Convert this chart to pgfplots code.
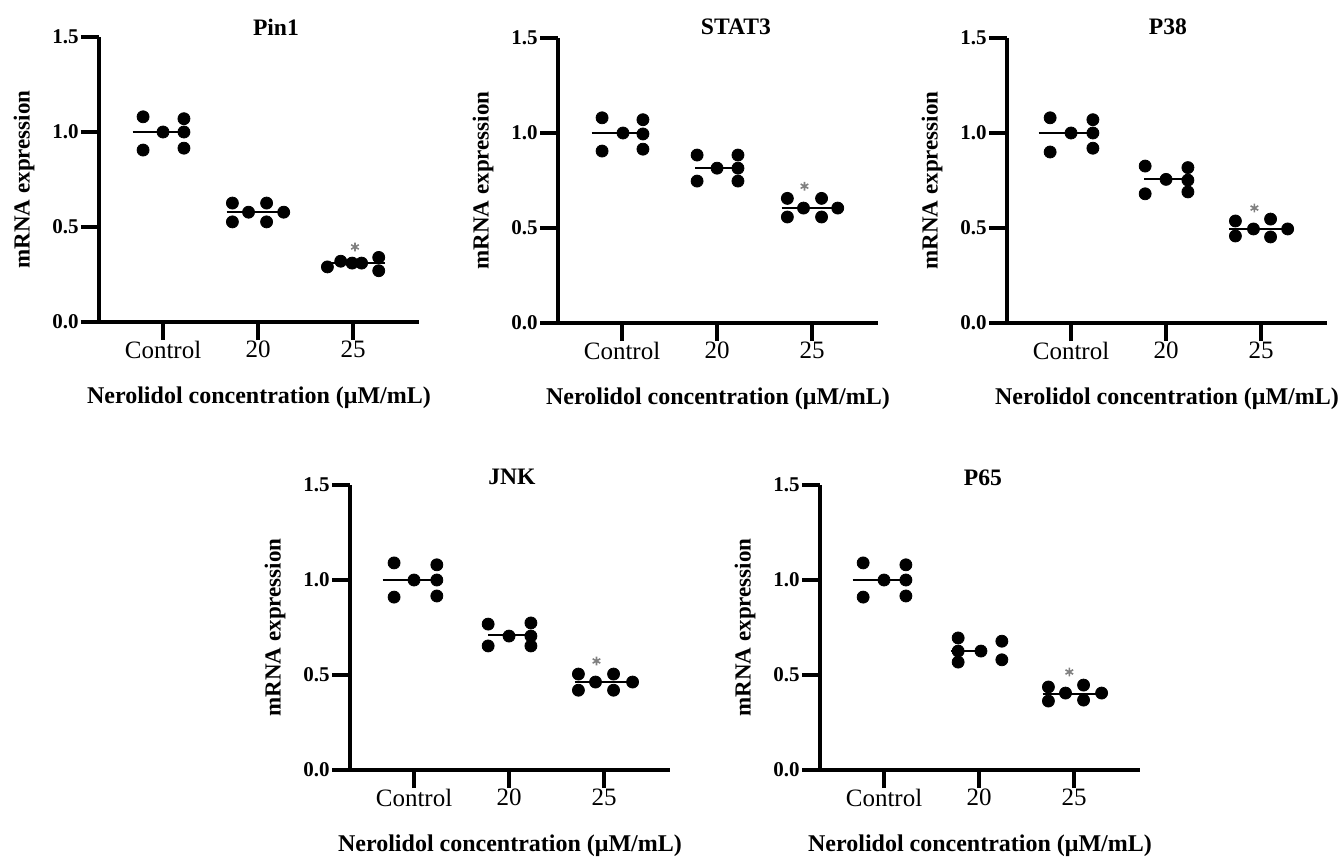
\documentclass[border=0pt]{standalone}
\usepackage{fontspec}
\setmainfont{Liberation Serif}
\usepackage{pgfplots}
\pgfplotsset{compat=1.18}
\pgfplotsset{
 panel/.style={
  scale only axis, width=160pt, height=142.5pt, anchor=north west,
  xmin=-0.674, xmax=2.694, ymin=0, ymax=1.5,
  axis x line=bottom, axis y line=left,
  axis line style={-, line width=1.6pt},
  xtick style={black, line width=1.6pt},
  ytick style={black, line width=1.6pt},
  major tick length=9pt, tick align=outside,
  xtick={0,1,2}, xticklabels={Control,20,25},
  ytick={0,0.5,1,1.5},
  yticklabel style={font=\fontsize{10.5}{12}\selectfont\bfseries, inner sep=1pt,
    /pgf/number format/fixed, /pgf/number format/fixed zerofill,
    /pgf/number format/precision=1, /pgf/number format/assume math mode=true},
  xticklabel style={font=\fontsize{12.5}{14}\selectfont, yshift=3pt},
  xlabel={Nerolidol concentration (μM/mL)},
  ylabel={mRNA expression},
  xlabel style={font=\fontsize{12}{14}\selectfont\bfseries, at={(axis description cs:0.5,-0.265)}, anchor=center},
  ylabel style={font=\fontsize{11.5}{13}\selectfont\bfseries, at={(axis description cs:-0.234,0.5)}, anchor=center},
  every axis title shift=0pt,
  clip=false,
 },
 ttl/.style={title style={font=\fontsize{11.8}{13}\selectfont\bfseries, at={(axis description cs:#1)}, anchor=center}},
 dots/.style={only marks, mark=*, mark size=3pt, black, mark options={fill=black}},
 med/.style={black, line width=1pt, no marks},
 star/.style={only marks, mark=asterisk, mark size=2.2pt, gray, mark options={line width=0.8pt}},
}
\begin{document}
\begin{tikzpicture}
\useasboundingbox (0,0) rectangle (669.5pt,-429.5pt);
% Pin1
\begin{axis}[panel, at={(49.5pt,-18.5pt)}, title={Pin1}, ttl={0.553,1.035}]
\addplot[med] coordinates {(-0.32,1.0) (0.28,1.0)};
\addplot[med] coordinates {(0.67,0.578) (1.33,0.578)};
\addplot[med] coordinates {(1.72,0.31) (2.34,0.31)};
\addplot[dots] coordinates {(-0.21,1.08) (-0.21,0.905) (0,1.0) (0.22,1.07) (0.22,1.0) (0.22,0.915)};
\addplot[dots] coordinates {(0.73,0.626) (0.73,0.527) (0.9,0.578) (1.09,0.626) (1.09,0.527) (1.27,0.578)};
\addplot[dots] coordinates {(1.73,0.29) (1.87,0.32) (1.99,0.31) (2.09,0.31) (2.27,0.34) (2.27,0.27)};
\addplot[star] coordinates {(2.02,0.395)};
\end{axis}
% STAT3
\begin{axis}[panel, at={(279pt,-19pt)}, title={STAT3}, ttl={0.556,1.039}]
\addplot[med] coordinates {(-0.32,1.0) (0.27,1.0)};
\addplot[med] coordinates {(0.77,0.815) (1.27,0.815)};
\addplot[med] coordinates {(1.68,0.605) (2.33,0.605)};
\addplot[dots] coordinates {(-0.21,1.08) (-0.21,0.905) (0.01,1.0) (0.22,1.07) (0.22,0.995) (0.22,0.915)};
\addplot[dots] coordinates {(0.79,0.884) (0.79,0.747) (1.0,0.815) (1.22,0.884) (1.22,0.815) (1.22,0.747)};
\addplot[dots] coordinates {(1.74,0.656) (1.74,0.558) (1.91,0.605) (2.1,0.656) (2.1,0.558) (2.27,0.605)};
\addplot[star] coordinates {(1.92,0.72)};
\end{axis}
% P38
\begin{axis}[panel, at={(503.5pt,-19pt)}, title={P38}, ttl={0.503,1.039}]
\addplot[med] coordinates {(-0.34,1.0) (0.28,1.0)};
\addplot[med] coordinates {(0.77,0.756) (1.28,0.756)};
\addplot[med] coordinates {(1.66,0.497) (2.33,0.497)};
\addplot[dots] coordinates {(-0.22,1.08) (-0.22,0.9) (0,1.0) (0.23,1.07) (0.23,1.0) (0.23,0.92)};
\addplot[dots] coordinates {(0.78,0.826) (0.78,0.68) (1.0,0.756) (1.23,0.818) (1.23,0.752) (1.23,0.69)};
\addplot[dots] coordinates {(1.73,0.537) (1.73,0.458) (1.92,0.495) (2.1,0.547) (2.1,0.453) (2.28,0.495)};
\addplot[star] coordinates {(1.93,0.605)};
\end{axis}
% JNK
\begin{axis}[panel, at={(175pt,-242.5pt)}, title={JNK}, ttl={0.506,1.028}]
\addplot[med] coordinates {(-0.33,1.0) (0.27,1.0)};
\addplot[med] coordinates {(0.78,0.71) (1.27,0.71)};
\addplot[med] coordinates {(1.69,0.463) (2.32,0.463)};
\addplot[dots] coordinates {(-0.21,1.09) (-0.21,0.91) (0,1.0) (0.24,1.08) (0.24,1.0) (0.24,0.916)};
\addplot[dots] coordinates {(0.78,0.768) (0.78,0.653) (1.0,0.705) (1.23,0.774) (1.23,0.705) (1.23,0.653)};
\addplot[dots] coordinates {(1.73,0.505) (1.73,0.42) (1.91,0.463) (2.1,0.505) (2.1,0.42) (2.3,0.463)};
\addplot[star] coordinates {(1.92,0.574)};
\end{axis}
% P65
\begin{axis}[panel, at={(410pt,-242.5pt)}, title={P65}, ttl={0.509,1.025}]
\addplot[med] coordinates {(-0.33,1.0) (0.29,1.0)};
\addplot[med] coordinates {(0.70,0.626) (1.02,0.626)};
\addplot[med] coordinates {(1.67,0.4) (2.33,0.4)};
\addplot[dots] coordinates {(-0.22,1.09) (-0.22,0.91) (0,1.0) (0.23,1.08) (0.23,1.0) (0.23,0.916)};
\addplot[dots] coordinates {(0.78,0.695) (0.78,0.626) (0.78,0.568) (1.02,0.626) (1.24,0.678) (1.24,0.58)};
\addplot[dots] coordinates {(1.73,0.437) (1.73,0.363) (1.91,0.405) (2.1,0.447) (2.1,0.368) (2.29,0.405)};
\addplot[star] coordinates {(1.95,0.516)};
\end{axis}
\end{tikzpicture}
\end{document}
